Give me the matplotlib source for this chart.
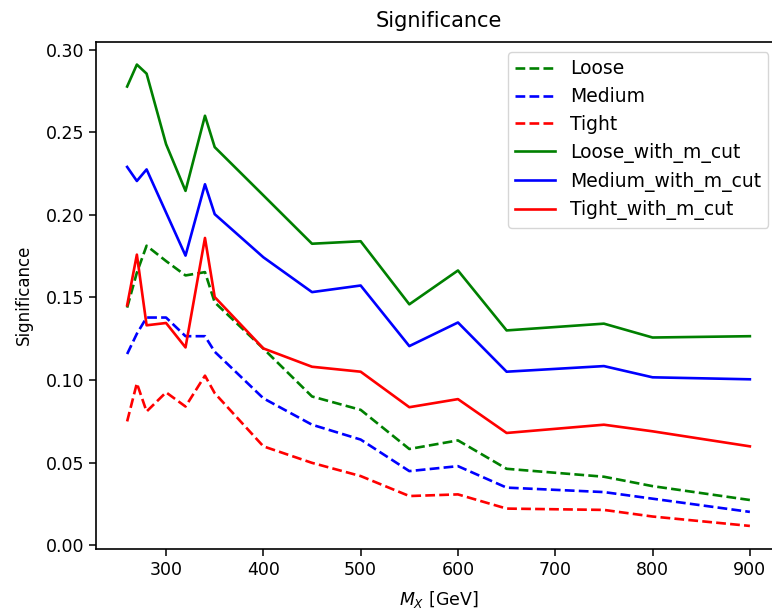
import matplotlib
matplotlib.use("Agg")
import matplotlib.pyplot as plt

mass = [260, 270, 280, 300, 320, 340, 350, 400, 450, 500, 550, 600, 650, 750, 800, 900]

loose = [0.1438, 0.165, 0.1813, 0.172, 0.1633, 0.1653, 0.147, 0.119, 0.090, 0.0819,
         0.0582, 0.0634, 0.0462, 0.0414, 0.0357, 0.0273]
medium = [0.1157, 0.128, 0.1378, 0.1378, 0.1265, 0.1265, 0.1171, 0.0889, 0.0729, 0.0639,
          0.0448, 0.0478, 0.0348, 0.0321, 0.0281, 0.0201]
tight = [0.0749, 0.098, 0.0809, 0.0925, 0.0839, 0.1026, 0.092, 0.0598, 0.0498, 0.0418,
         0.0297, 0.0307, 0.0221, 0.0213, 0.0173, 0.0116]
loose_cut = [0.2777, 0.291, 0.2855, 0.2428, 0.2145, 0.260, 0.241, 0.2118, 0.1825, 0.184,
             0.1458, 0.1663, 0.130, 0.1341, 0.1257, 0.1265]
medium_cut = [0.229, 0.2205, 0.2275, 0.2014, 0.1753, 0.2185, 0.2004, 0.1743, 0.1532, 0.1572,
              0.1205, 0.1348, 0.105, 0.1084, 0.1016, 0.1004]
tight_cut = [0.1452, 0.1759, 0.1331, 0.1345, 0.1197, 0.186, 0.1502, 0.1191, 0.1080, 0.1050,
             0.0835, 0.0884, 0.0679, 0.0729, 0.0689, 0.0598]

labels = ["Loose", "Medium", "Tight", "Loose_with_m_cut", "Medium_with_m_cut", "Tight_with_m_cut"]

plt.rcParams['font.family'] = ['DejaVu Sans']
fig = plt.figure(figsize=(7.72, 6.12), dpi=100)
ax = fig.add_axes([96/772, (612-549)/612, (781-96)/772, (549-41.5)/612])

lw = 1.9
ax.plot(mass, loose, 'g--', lw=lw, label=labels[0])
ax.plot(mass, medium, 'b--', lw=lw, label=labels[1])
ax.plot(mass, tight, 'r--', lw=lw, label=labels[2])
ax.plot(mass, loose_cut, 'g-', lw=lw, label=labels[3])
ax.plot(mass, medium_cut, 'b-', lw=lw, label=labels[4])
ax.plot(mass, tight_cut, 'r-', lw=lw, label=labels[5])

ax.set_title("Significance", fontsize=15, pad=10.5)
ax.set_xlabel(r"$M_X$ [GeV]", fontsize=12.5, labelpad=7.5)
ax.set_ylabel("Significance", fontsize=12, labelpad=9)
ax.tick_params(labelsize=12.5, length=5, width=1.1)
for s in ax.spines.values():
    s.set_linewidth(1.2)
ax.set_xticks([300, 400, 500, 600, 700, 800, 900])
ax.set_yticks([0.0, 0.05, 0.10, 0.15, 0.20, 0.25, 0.30])
ax.yaxis.set_major_formatter(matplotlib.ticker.FormatStrFormatter('%.2f'))
ax.legend(loc='upper right', fontsize=13.5, bbox_to_anchor=(0.987, 0.987),
          borderaxespad=0.2, labelspacing=0.47, handlelength=2.1)

fig.savefig("out.png", dpi=100)
